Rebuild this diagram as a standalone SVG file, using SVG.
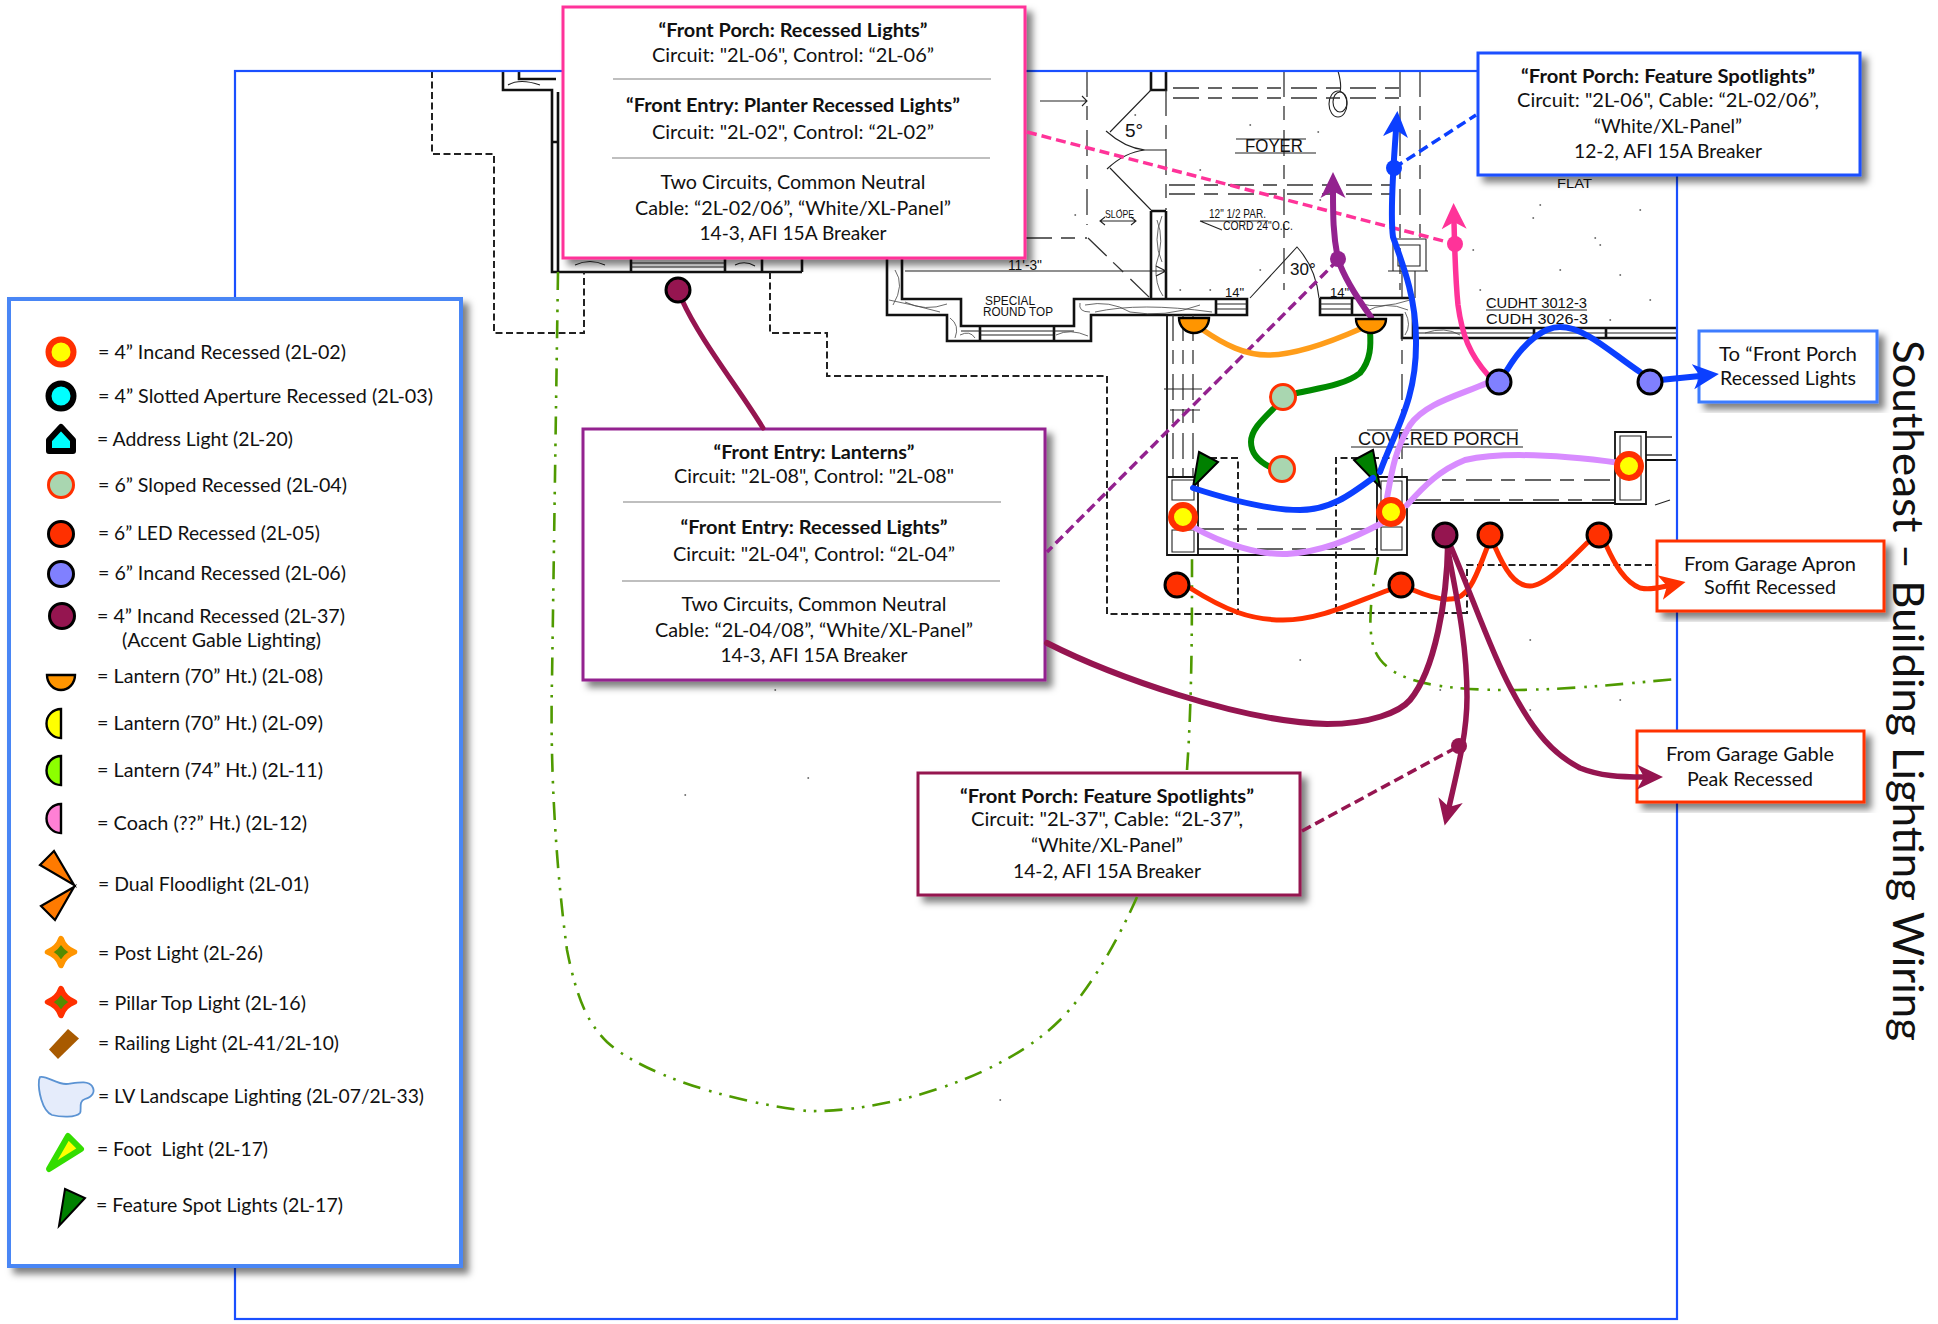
<svg xmlns="http://www.w3.org/2000/svg" width="1938" height="1324" viewBox="0 0 1938 1324">
<style>
text{font-family:Lato,"Liberation Sans",sans-serif;fill:#111;white-space:pre}
.t{font-size:19px}
.c{font-size:19px;text-anchor:middle}
.b{font-weight:700}
.h{font-family:"Liberation Sans",Arial,sans-serif;fill:#111}
.wall{fill:none;stroke:#111;stroke-width:2.6}
.wall2{fill:none;stroke:#111;stroke-width:1.8}
.thin{fill:none;stroke:#222;stroke-width:1.1}
.grain{fill:none;stroke:#444;stroke-width:.8}
.speck{fill:none;stroke:#444;stroke-width:1.4;stroke-linecap:round}
.pd{fill:none;stroke:#333;stroke-width:1.3;stroke-dasharray:26 9 14 10}
.bd{fill:none;stroke:#222;stroke-width:2;stroke-dasharray:7 3.5}
.lv{fill:none;stroke:#4f9a00;stroke-width:2.6;stroke-dasharray:18 9 2.6 8 2.6 8}
.w{fill:none;stroke-linecap:round;stroke-linejoin:round}
.lead{fill:none;stroke-width:3.5;stroke-dasharray:10 5}
.box{fill:#fff;stroke-width:3;filter:url(#sh)}
.rule{stroke:#aaa;stroke-width:1.5}
.r2{fill:#ff0;stroke:#ff3000;stroke-width:6}
.r3{fill:#0ff;stroke:#000;stroke-width:6}
.r4{fill:#a9d6b0;stroke:#ff3000;stroke-width:3}
.r5{fill:#ff3000;stroke:#000;stroke-width:3}
.r6{fill:#8080ff;stroke:#000;stroke-width:3}
.r37{fill:#951550;stroke:#000;stroke-width:3}
.lan{stroke:#000;stroke-width:2.4}
.spot{fill:#008000;stroke:#000;stroke-width:2}
.flood{fill:#ff7a00;stroke:#000;stroke-width:2.2;stroke-linejoin:miter}
</style>
<defs>
<filter id="sh" x="-10%" y="-10%" width="125%" height="125%"><feDropShadow dx="6" dy="6" stdDeviation="3.5" flood-color="#000" flood-opacity=".5"/></filter>
<marker id="aB" markerUnits="userSpaceOnUse" markerWidth="30" markerHeight="30" refX="7" refY="15" orient="auto"><polygon points="0,2.5 26,15 0,27.5 7,15" fill="#0b3fff"/></marker>
<marker id="aP" markerUnits="userSpaceOnUse" markerWidth="30" markerHeight="30" refX="7" refY="15" orient="auto"><polygon points="0,2.5 26,15 0,27.5 7,15" fill="#93228f"/></marker>
<marker id="aK" markerUnits="userSpaceOnUse" markerWidth="30" markerHeight="30" refX="7" refY="15" orient="auto"><polygon points="0,2.5 26,15 0,27.5 7,15" fill="#ff3399"/></marker>
<marker id="aR" markerUnits="userSpaceOnUse" markerWidth="30" markerHeight="30" refX="7" refY="15" orient="auto"><polygon points="0,2.5 26,15 0,27.5 7,15" fill="#ff3000"/></marker>
<marker id="aM" markerUnits="userSpaceOnUse" markerWidth="30" markerHeight="30" refX="7" refY="15" orient="auto"><polygon points="0,2.5 26,15 0,27.5 7,15" fill="#951550"/></marker>
</defs>
<rect width="1938" height="1324" fill="#fff"/>

<g id="plan">
<path class="wall" d="M503,72V90H552V272H802M519,72V79H556M558,92V272M552,142H558M631,258V272M725,258V272M762,258V272M802,258V272"/>
<path class="thin" d="M631,263H725M631,267H725M575,265Q590,258 605,265M735,265Q745,260 755,266M508,85Q520,78 540,85"/>
<path class="wall" d="M887,258V315H947V341H1091V315H1216M902,258V299H961V326H1074V299H1247V315H1167M980,326V341M1054,326V341M1216,299V315"/>
<path class="thin" d="M961,331H1074M980,335H1054M1217,304H1247M1217,309H1247"/>
<path class="grain" d="M895,270Q905,285 893,305M889,300Q915,305 940,312M905,302Q925,312 947,304M950,318Q960,325 955,338M960,335Q970,330 975,338M1056,335Q1070,328 1088,336M1080,303Q1078,312 1090,312M1085,305Q1110,300 1130,312Q1165,318 1200,305M1095,312Q1140,302 1212,312"/>
<path class="wall" d="M1320,298V315H1402V338H1677M1320,298H1413V338M1417,328H1677M1534,328V338M1606,328V338M1352,298V315"/>
<path class="thin" d="M1320,304H1352M1320,309H1352M1417,333H1677"/>
<path class="grain" d="M1358,303Q1380,310 1410,300M1365,312Q1385,300 1408,310M1405,312Q1412,325 1405,335M1425,333Q1445,326 1460,335"/>
<path class="wall" d="M1151,211V299M1166,211V299M1151,71V90H1166V71M1151,211H1166"/>
<path class="grain" d="M1157,220Q1165,240 1156,265Q1155,285 1163,296M1162,216Q1152,240 1162,262"/>
<path class="thin" d="M1151,90L1110,132M1106,131Q1125,148 1145,150H1166M1107,169Q1125,152 1145,150M1110,168L1151,210M1040,101H1087M1082,96L1087,101L1082,106M905,271H1166M1156,266L1166,271L1156,276M1250,298L1297,247Q1316,268 1319,298M1236,139H1306M1235,153H1316M1200,221H1268M1200,221L1222,230M1100,221H1136M1105,217L1100,221L1105,225M1131,217L1136,221L1131,225M1338,71Q1342,85 1340,92"/>
<ellipse class="thin" cx="1338" cy="104" rx="9" ry="13"/>
<ellipse class="thin" cx="1340" cy="102" rx="7" ry="10"/>
<path class="pd" d="M1087,71V225M1166,90V210M1284,71V290M1400,71V290M1420,71V240M1026,238H1087M1088,238L1151,299M1173,88H1400M1173,98H1400M1169,185H1400M1169,194H1400M1402,315V477M1193,315V477M1173,315V477M1183,315V477M1198,529H1377M1198,549H1377M1407,480H1615M1415,500H1615M1646,437H1677M1646,455H1677"/>
<path class="wall2" d="M1167,315V555H1407V477H1377V555M1167,477H1198V555M1615,432V504H1646V432ZM1408,503H1615M1646,460H1677"/>
<path class="thin" d="M1164,389H1202M1170,410H1200M1620,436V500H1641V436ZM1393,239H1426V271H1393ZM1398,245H1420V266H1398ZM1388,271H1428M1402,271V298M1415,271V298M1172,480H1194V500H1172ZM1172,530H1194V552H1172ZM1381,481H1402V503H1381ZM1381,527H1402V550H1381ZM1367,430H1518M1351,447H1523M1486,310H1587M1655,505L1670,500"/>
<path class="bd" d="M432,71V154H494V333H584V272M770,272V333H827V376H1107V614H1238V458H1210M1400,458H1336V614M1336,613H1467V565H1656"/>
<path class="speck" d="M1533,218h.5M1595,238h.5M1600,245h.5M1620,275h.5M1473,250h.5M1540,205h.5M1640,210h.5M1560,270h.5M1610,320h.5M1480,290h.5M1650,300h.5M1200,170h.5M1320,200h.5M1250,125h.5M1318,132h.5M1120,210h.5M1075,215h.5M1135,115h.5M1210,290h.5M1180,290h.5M1260,270h.5M775,690h.5M808,778h.5M1000,1100h.5M685,795h.5M1300,660h.5M1530,640h.5M1530,710h.5M1440,690h.5M1620,700h.5"/>
<text class="h" x="1125" y="137" font-size="19">5°</text>
<text class="h" x="1245" y="152" font-size="18" textLength="58" lengthAdjust="spacingAndGlyphs">FOYER</text>
<text class="h" x="1105" y="218" font-size="11" textLength="29" lengthAdjust="spacingAndGlyphs">SLOPE</text>
<text class="h" x="1209" y="218" font-size="13" textLength="57" lengthAdjust="spacingAndGlyphs">12" 1/2 PAR.</text>
<text class="h" x="1223" y="230" font-size="12" textLength="70" lengthAdjust="spacingAndGlyphs">CORD 24"O.C.</text>
<text class="h" x="1008" y="270" font-size="15" textLength="34" lengthAdjust="spacingAndGlyphs">11'-3"</text>
<text class="h" x="985" y="305" font-size="12" textLength="50" lengthAdjust="spacingAndGlyphs">SPECIAL</text>
<text class="h" x="983" y="316" font-size="12" textLength="70" lengthAdjust="spacingAndGlyphs">ROUND TOP</text>
<text class="h" x="1290" y="275" font-size="17">30°</text>
<text class="h" x="1225" y="297" font-size="13">14"</text>
<text class="h" x="1330" y="297" font-size="13">14"</text>
<text class="h" x="1557" y="188" font-size="12" textLength="35" lengthAdjust="spacingAndGlyphs">FLAT</text>
<text class="h" x="1486" y="308" font-size="14" textLength="101" lengthAdjust="spacingAndGlyphs">CUDHT 3012-3</text>
<text class="h" x="1486" y="324" font-size="14" textLength="102" lengthAdjust="spacingAndGlyphs">CUDH 3026-3</text>
<text class="h" x="1358" y="445" font-size="18" textLength="161" lengthAdjust="spacingAndGlyphs">COVERED PORCH</text>
</g>

<rect id="outline" x="235" y="71" width="1442" height="1248" fill="none" stroke="#1a4fff" stroke-width="2.2"/>

<g id="legend">
<rect class="box" x="9" y="299" width="452" height="967" stroke="#4a86f5" style="stroke-width:4"/>
<circle class="r2" cx="61" cy="352" r="12.5"/>
<text class="t" x="98" y="359" textLength="248" lengthAdjust="spacingAndGlyphs">= 4” Incand Recessed (2L-02)</text>
<circle class="r3" cx="61" cy="396" r="12.5"/>
<text class="t" x="98" y="403" textLength="335" lengthAdjust="spacingAndGlyphs">= 4” Slotted Aperture Recessed (2L-03)</text>
<path d="M61,427L73,440V451H49V440Z" fill="#0ff" stroke="#000" stroke-width="6" stroke-linejoin="round"/>
<text class="t" x="97" y="446" textLength="196" lengthAdjust="spacingAndGlyphs">= Address Light (2L-20)</text>
<circle class="r4" cx="61" cy="485" r="12.5"/>
<text class="t" x="98" y="492" textLength="249" lengthAdjust="spacingAndGlyphs">= 6” Sloped Recessed (2L-04)</text>
<circle class="r5" cx="61" cy="534" r="12.5"/>
<text class="t" x="98" y="540" textLength="222" lengthAdjust="spacingAndGlyphs">= 6” LED Recessed (2L-05)</text>
<circle class="r6" cx="61" cy="574" r="12.5"/>
<text class="t" x="98" y="580" textLength="248" lengthAdjust="spacingAndGlyphs">= 6” Incand Recessed (2L-06)</text>
<circle class="r37" cx="62" cy="616" r="12.5"/>
<text class="t" x="97" y="623" textLength="248" lengthAdjust="spacingAndGlyphs">= 4” Incand Recessed (2L-37)</text>
<text class="t" x="122" y="647" textLength="199" lengthAdjust="spacingAndGlyphs">(Accent Gable Lighting)</text>
<path class="lan" fill="#ff9500" d="M47,675A14,15 0 0 0 75,675Z"/>
<text class="t" x="97" y="683" textLength="226" lengthAdjust="spacingAndGlyphs">= Lantern (70” Ht.) (2L-08)</text>
<path class="lan" fill="#ff0" d="M61,709A14.5,14.5 0 0 0 61,738Z"/>
<text class="t" x="97" y="730" textLength="226" lengthAdjust="spacingAndGlyphs">= Lantern (70” Ht.) (2L-09)</text>
<path class="lan" fill="#8cff00" d="M61,756A14.5,14.5 0 0 0 61,785Z"/>
<text class="t" x="97" y="777" textLength="226" lengthAdjust="spacingAndGlyphs">= Lantern (74” Ht.) (2L-11)</text>
<path class="lan" fill="#ff80d5" d="M61,804A14.5,14.5 0 0 0 61,833Z"/>
<text class="t" x="97" y="830" textLength="210" lengthAdjust="spacingAndGlyphs">= Coach (??” Ht.) (2L-12)</text>
<polygon class="flood" points="54,851 40,865 74,885"/>
<polygon class="flood" points="74,887 41,906 55,920"/>
<text class="t" x="98" y="891" textLength="211" lengthAdjust="spacingAndGlyphs">= Dual Floodlight (2L-01)</text>
<path d="M61,938.5Q64.5,948.5 74.5,952Q64.5,955.5 61,965.5Q57.5,955.5 47.5,952Q57.5,948.5 61,938.5Z" fill="#558b00" stroke="#ff9500" stroke-width="5.5" stroke-linejoin="round"/>
<text class="t" x="98" y="960" textLength="165" lengthAdjust="spacingAndGlyphs">= Post Light (2L-26)</text>
<path d="M61,988.5Q64.5,998.5 74.5,1002Q64.5,1005.5 61,1015.5Q57.5,1005.5 47.5,1002Q57.5,998.5 61,988.5Z" fill="#558b00" stroke="#ff3000" stroke-width="5.5" stroke-linejoin="round"/>
<text class="t" x="98" y="1010" textLength="208" lengthAdjust="spacingAndGlyphs">= Pillar Top Light (2L-16)</text>
<polygon points="68,1029 79,1038.5 58,1059 49,1049.6" fill="#a85a00"/>
<text class="t" x="98" y="1050" textLength="241" lengthAdjust="spacingAndGlyphs">= Railing Light (2L-41/2L-10)</text>
<path d="M40,1077C46,1075 56,1084 66,1084C76,1083 88,1080 92,1086C96,1092 92,1097 85,1099C78,1101 82,1110 80,1113C76,1118 60,1117 52,1115C42,1111 38,1090 39,1080Z" fill="#e5ecfb" stroke="#5b93d3" stroke-width="1.8"/>
<text class="t" x="98" y="1103" textLength="326" lengthAdjust="spacingAndGlyphs">= LV Landscape Lighting (2L-07/2L-33)</text>
<polygon points="49,1169 68,1136 81,1149" fill="#ff0" stroke="#33dd00" stroke-width="6" stroke-linejoin="round"/>
<text class="t" x="97" y="1156" textLength="171" lengthAdjust="spacingAndGlyphs">= Foot  Light (2L-17)</text>
<polygon class="spot" points="65,1189 85,1198 59,1226"/>
<text class="t" x="96" y="1212" textLength="247" lengthAdjust="spacingAndGlyphs">= Feature Spot Lights (2L-17)</text>
</g>

<g id="callout-porch-recessed">
<rect class="box" x="563" y="7" width="462" height="251" stroke="#ff3399"/>
<text class="c b" x="793" y="37" textLength="269" lengthAdjust="spacingAndGlyphs">“Front Porch: Recessed Lights”</text>
<text class="c" x="793" y="62" textLength="282" lengthAdjust="spacingAndGlyphs">Circuit: "2L-06", Control: “2L-06”</text>
<line class="rule" x1="613" y1="79" x2="991" y2="79"/>
<text class="c b" x="793" y="112" textLength="334" lengthAdjust="spacingAndGlyphs">“Front Entry: Planter Recessed Lights”</text>
<text class="c" x="793" y="139" textLength="282" lengthAdjust="spacingAndGlyphs">Circuit: "2L-02", Control: “2L-02”</text>
<line class="rule" x1="612" y1="158" x2="990" y2="158"/>
<text class="c" x="793" y="189" textLength="265" lengthAdjust="spacingAndGlyphs">Two Circuits, Common Neutral</text>
<text class="c" x="793" y="215" textLength="316" lengthAdjust="spacingAndGlyphs">Cable: “2L-02/06”, “White/XL-Panel”</text>
<text class="c" x="793" y="240" textLength="187" lengthAdjust="spacingAndGlyphs">14-3, AFI 15A Breaker</text>
</g>

<g id="callout-porch-spots">
<rect class="box" x="1478" y="53" width="382" height="122" stroke="#1a4fff"/>
<text class="c b" x="1668" y="83" textLength="294" lengthAdjust="spacingAndGlyphs">“Front Porch: Feature Spotlights”</text>
<text class="c" x="1668" y="107" textLength="302" lengthAdjust="spacingAndGlyphs">Circuit: "2L-06", Cable: “2L-02/06”,</text>
<text class="c" x="1668" y="133" textLength="148" lengthAdjust="spacingAndGlyphs">“White/XL-Panel”</text>
<text class="c" x="1668" y="158" textLength="188" lengthAdjust="spacingAndGlyphs">12-2, AFI 15A Breaker</text>
</g>

<g id="callout-to-porch">
<rect class="box" x="1699" y="331" width="178" height="71" stroke="#3c7bff"/>
<text class="c" x="1788" y="361" textLength="138" lengthAdjust="spacingAndGlyphs">To “Front Porch</text>
<text class="c" x="1788" y="385" textLength="136" lengthAdjust="spacingAndGlyphs">Recessed Lights</text>
</g>

<g id="callout-lanterns">
<rect class="box" x="583" y="429" width="462" height="251" stroke="#93228f"/>
<text class="c b" x="814" y="459" textLength="201" lengthAdjust="spacingAndGlyphs">“Front Entry: Lanterns”</text>
<text class="c" x="814" y="483" textLength="280" lengthAdjust="spacingAndGlyphs">Circuit: "2L-08", Control: "2L-08"</text>
<line class="rule" x1="623" y1="502" x2="1001" y2="502"/>
<text class="c b" x="814" y="534" textLength="267" lengthAdjust="spacingAndGlyphs">“Front Entry: Recessed Lights”</text>
<text class="c" x="814" y="561" textLength="282" lengthAdjust="spacingAndGlyphs">Circuit: "2L-04", Control: “2L-04”</text>
<line class="rule" x1="622" y1="581" x2="1000" y2="581"/>
<text class="c" x="814" y="611" textLength="265" lengthAdjust="spacingAndGlyphs">Two Circuits, Common Neutral</text>
<text class="c" x="814" y="637" textLength="318" lengthAdjust="spacingAndGlyphs">Cable: “2L-04/08”, “White/XL-Panel”</text>
<text class="c" x="814" y="662" textLength="187" lengthAdjust="spacingAndGlyphs">14-3, AFI 15A Breaker</text>
</g>

<g id="callout-apron">
<rect class="box" x="1657" y="541" width="227" height="70" stroke="#ff3000"/>
<text class="c" x="1770" y="571" textLength="172" lengthAdjust="spacingAndGlyphs">From Garage Apron</text>
<text class="c" x="1770" y="594" textLength="132" lengthAdjust="spacingAndGlyphs">Soffit Recessed</text>
</g>

<g id="callout-gable">
<rect class="box" x="1637" y="731" width="227" height="71" stroke="#ff3000"/>
<text class="c" x="1750" y="761" textLength="168" lengthAdjust="spacingAndGlyphs">From Garage Gable</text>
<text class="c" x="1750" y="786" textLength="126" lengthAdjust="spacingAndGlyphs">Peak Recessed</text>
</g>

<g id="callout-gable-spots">
<rect class="box" x="918" y="773" width="382" height="122" stroke="#951550"/>
<text class="c b" x="1107" y="803" textLength="294" lengthAdjust="spacingAndGlyphs">“Front Porch: Feature Spotlights”</text>
<text class="c" x="1107" y="826" textLength="272" lengthAdjust="spacingAndGlyphs">Circuit: "2L-37", Cable: “2L-37”,</text>
<text class="c" x="1107" y="852" textLength="152" lengthAdjust="spacingAndGlyphs">“White/XL-Panel”</text>
<text class="c" x="1107" y="878" textLength="188" lengthAdjust="spacingAndGlyphs">14-2, AFI 15A Breaker</text>
</g>

<g id="spot-lights">
<polygon class="spot" points="1199,452 1218,462 1193,487"/>
<polygon class="spot" points="1373,450 1354,460 1380,487"/>
</g>

<g id="connectors">
<path class="lv" d="M558,272L552,680C550,760 555,860 567,950C578,1005 590,1025 607,1042C640,1072 720,1100 807,1111C880,1113 1000,1080 1060,1020C1090,990 1118,940 1137,897"/>
<path class="lv" d="M1187,770C1192,700 1192,620 1192,558"/>
<path class="lv" d="M1378,557C1372,590 1368,620 1372,640C1378,680 1430,690 1509,690C1570,690 1630,683 1677,679"/>
<path class="lead" stroke="#ff3399" d="M1027,132L1455,244"/>
<path class="lead" stroke="#0b3fff" d="M1394,168L1476,115"/>
<path class="lead" stroke="#93228f" d="M1338,260L1047,552"/>
<path class="lead" stroke="#951550" d="M1302,831L1459,746"/>
<path class="w" stroke="#ff9d1a" stroke-width="5.5" d="M1203,330C1225,345 1245,355 1268,355C1295,355 1335,340 1360,329"/>
<path class="w" stroke="#008a00" stroke-width="6" d="M1370,331C1371,345 1371,360 1360,373C1345,385 1320,388 1297,393"/>
<path class="w" stroke="#008a00" stroke-width="6" d="M1275,407C1262,420 1251,430 1251,442C1251,455 1260,462 1270,467"/>
<path class="w" stroke="#d88cff" stroke-width="6" d="M1193,527C1225,545 1260,555 1287,554C1320,552 1350,540 1382,523"/>
<path class="w" stroke="#d88cff" stroke-width="6" d="M1387,498C1392,470 1395,450 1410,425C1425,403 1460,395 1487,383"/>
<path class="w" stroke="#d88cff" stroke-width="6" d="M1407,505C1425,485 1440,470 1465,460C1500,452 1560,455 1620,463"/>
<path class="w" stroke="#0b3fff" stroke-width="6" d="M1193,488C1230,500 1270,510 1300,510C1330,510 1350,495 1373,478"/>
<path class="w" stroke="#0b3fff" stroke-width="6" marker-end="url(#aB)" d="M1380,472C1395,430 1417,400 1416,340C1416,300 1405,270 1393,237C1390,215 1393,170 1396,130"/>
<path class="w" stroke="#0b3fff" stroke-width="6" d="M1507,370C1525,340 1545,327 1560,327C1585,327 1610,352 1640,372"/>
<path class="w" stroke="#0b3fff" stroke-width="6" marker-end="url(#aB)" d="M1660,380L1700,376"/>
<path class="w" stroke="#ff3399" stroke-width="5.5" marker-end="url(#aK)" d="M1488,375C1470,355 1462,335 1458,305C1456,285 1455,265 1454,222"/>
<path class="w" stroke="#93228f" stroke-width="6" marker-end="url(#aP)" d="M1371,317C1355,295 1343,275 1338,259C1333,235 1333,215 1333,191"/>
<path class="w" stroke="#ff3000" stroke-width="5" d="M1190,588C1225,610 1250,620 1283,620C1320,620 1355,602 1389,590"/>
<path class="w" stroke="#ff3000" stroke-width="5" d="M1413,590C1425,595 1440,600 1450,599C1470,600 1478,570 1487,548"/>
<path class="w" stroke="#ff3000" stroke-width="5" d="M1495,547C1505,570 1515,586 1530,586C1545,586 1570,560 1587,543"/>
<path class="w" stroke="#ff3000" stroke-width="5" marker-end="url(#aR)" d="M1606,545C1615,565 1625,582 1640,588C1650,590 1658,588 1667,586"/>
<path class="w" stroke="#951550" stroke-width="6" d="M1047,643C1110,675 1240,722 1327,724C1370,724 1400,712 1410,700C1435,670 1447,600 1448,543"/>
<path class="w" stroke="#951550" stroke-width="5.5" marker-end="url(#aM)" d="M1446,540C1455,590 1467,640 1467,697C1467,730 1460,760 1449,807"/>
<path class="w" stroke="#951550" stroke-width="5.5" marker-end="url(#aM)" d="M1448,540C1470,590 1490,650 1510,687C1535,735 1555,755 1580,768C1600,776 1620,777 1644,777"/>
<path class="w" stroke="#951550" stroke-width="5" d="M682,300C700,340 740,390 763,428"/>
</g>

<g id="n-lantern-1"><path class="lan" fill="#ff9500" d="M1179,318A15,15 0 0 0 1209,318Z"/></g>
<g id="n-lantern-2"><path class="lan" fill="#ff9500" d="M1356,319A15,14 0 0 0 1386,319Z"/></g>
<g id="n-sloped-1"><circle class="r4" cx="1283" cy="397" r="12.5"/></g>
<g id="n-sloped-2"><circle class="r4" cx="1282" cy="469" r="12.5"/></g>
<g id="n-incand-1"><circle class="r2" cx="1183" cy="517" r="12"/></g>
<g id="n-incand-2"><circle class="r2" cx="1391" cy="512" r="12"/></g>
<g id="n-incand-3"><circle class="r2" cx="1629" cy="466" r="12"/></g>
<g id="n-led-1"><circle class="r5" cx="1177" cy="585" r="12"/></g>
<g id="n-led-2"><circle class="r5" cx="1401" cy="585" r="12"/></g>
<g id="n-led-3"><circle class="r5" cx="1490" cy="535" r="12"/></g>
<g id="n-led-4"><circle class="r5" cx="1599" cy="535" r="12"/></g>
<g id="n-accent-1"><circle class="r37" cx="1445" cy="535" r="12"/></g>
<g id="n-accent-2"><circle class="r37" cx="678" cy="290" r="12"/></g>
<g id="n-six-1"><circle class="r6" cx="1499" cy="382" r="12"/></g>
<g id="n-six-2"><circle class="r6" cx="1650" cy="382" r="12"/></g>
<g id="n-dot-blue"><circle cx="1394" cy="168" r="8" fill="#0b3fff"/></g>
<g id="n-dot-purple"><circle cx="1338" cy="259" r="8" fill="#93228f"/></g>
<g id="n-dot-pink"><circle cx="1455" cy="244" r="8" fill="#ff3399"/></g>
<g id="n-dot-maroon"><circle cx="1459" cy="746" r="8" fill="#951550"/></g>

<text id="title" transform="translate(1893,340) rotate(90)" font-size="42" textLength="701" lengthAdjust="spacingAndGlyphs">Southeast – Building Lighting Wiring</text>
</svg>
